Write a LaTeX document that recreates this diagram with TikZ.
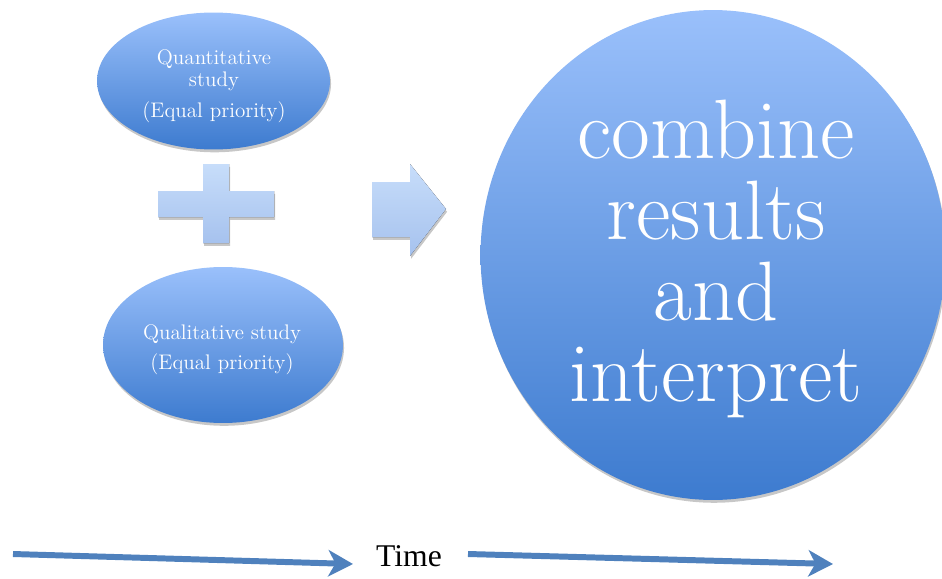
\documentclass[tikz,border=0pt]{standalone}
\usepackage{fontspec}
\newfontfamily\timefont{Liberation Serif}
\usepackage{xcolor}
\usetikzlibrary{positioning, shapes.geometric, arrows.meta, shadows}
\definecolor{ovaltop}{RGB}{154, 192, 251}
\definecolor{ovalbottom}{RGB}{61, 123, 207}
\definecolor{paletop}{RGB}{199, 221, 250}
\definecolor{palebottom}{RGB}{166, 194, 238}
\definecolor{timeblue}{RGB}{79, 129, 189}

\begin{document}
\begin{tikzpicture}[x=0.02cm, y=-0.02cm, >=Stealth]
    \tikzstyle{softshadow} = [drop shadow={shadow xshift=0.6pt, shadow yshift=-1.6pt, opacity=0.22, fill=black}]
    \tikzstyle{study} = [ellipse, top color=ovaltop, bottom color=ovalbottom, text=white, align=center, inner sep=0pt, font=\fontsize{12}{14}\selectfont, softshadow]
    \tikzstyle{label} = [text=white, align=center, font=\fontsize{12}{12.5}\selectfont]
    \tikzstyle{pale} = [top color=paletop, bottom color=palebottom, softshadow]
    \tikzstyle{timeline} = [line width=3.4pt, draw=timeblue, -{Stealth[length=14pt, width=15pt, inset=4pt]}]

    \useasboundingbox (0,0) rectangle (942,578);

    % the two studies
    \node[study, minimum width=4.66cm, minimum height=2.74cm] (quant) at (213.5,81) {};
    \node[label] (quanttext) at (214,86) {Quantitative\\study\\[5pt](Equal priority)};
    \node[study, minimum width=4.8cm, minimum height=3.12cm] (qual) at (223,345) {};
    \node[label] (qualtext) at (222,350) {Qualitative study\\[4.5pt](Equal priority)};

    % plus sign and block arrow
    \fill[pale] (203,164) -- (229,164) -- (229,191) -- (274,191) -- (274,217) -- (229,217)
        -- (229,243) -- (203,243) -- (203,217) -- (158,217) -- (158,191) -- (203,191) -- cycle;
    \fill[pale] (372,182) -- (410,182) -- (410,164) -- (446,209) -- (410,256) -- (410,237)
        -- (372,237) -- cycle;

    % combined result
    \node[study, minimum width=9.3cm, minimum height=9.8cm] (result) at (713,255) {};
    \node[text=white, align=center, font=\fontsize{48}{46}\selectfont] (resulttext) at (716,259)
        {combine\\results\\and\\interpret};

    % time axis
    \node[font=\timefont\fontsize{18}{20}\selectfont] (time) at (409,556) {Time};
    \coordinate (tstart) at (13,554);
    \coordinate (tmid) at (353,564);
    \coordinate (tresume) at (468,554);
    \coordinate (tend) at (833,564);
    \draw[timeline] (tstart) -- (tmid);
    \draw[timeline] (tresume) -- (tend);
\end{tikzpicture}
\end{document}
